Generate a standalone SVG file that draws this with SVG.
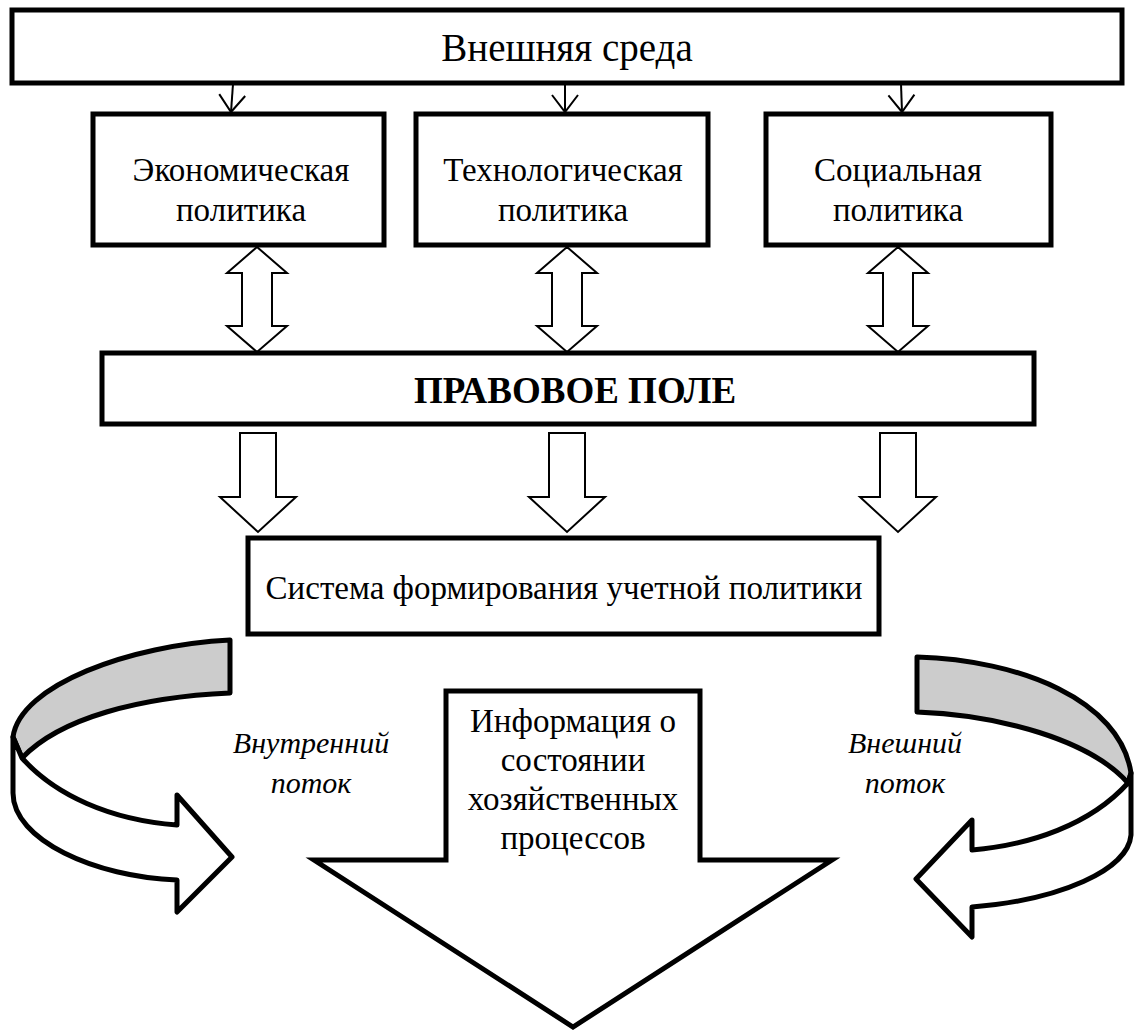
<svg xmlns="http://www.w3.org/2000/svg" width="1134" height="1030" viewBox="0 0 1134 1030">
<defs>
<style>
.box{fill:#fff;stroke:#000;stroke-width:5}
.t{font-family:"Liberation Serif","Times New Roman",serif;font-size:33px;fill:#000;text-anchor:middle}
.it{font-style:italic;font-size:30px}
.b{font-weight:bold;font-size:37px}
.blk{fill:#fff;stroke:#000;stroke-width:2;stroke-linejoin:miter}
.thin{fill:none;stroke:#000;stroke-width:2}
.curve{stroke:#000;stroke-width:5;stroke-linejoin:round}
</style>
<marker id="v" viewBox="0 0 20 30" refX="18" refY="15" markerWidth="20" markerHeight="30" markerUnits="userSpaceOnUse" orient="auto">
<path d="M1,2 L18,15 L1,28" fill="none" stroke="#000" stroke-width="2"/>
</marker>
</defs>

<g id="connectors">
<line class="thin" x1="233" y1="84" x2="231" y2="112" marker-end="url(#v)"/>
<line class="thin" x1="565" y1="84" x2="565" y2="112" marker-end="url(#v)"/>
<line class="thin" x1="901" y1="84" x2="902" y2="112" marker-end="url(#v)"/>
<path class="blk" d="M257,247 L287,273 L272,273 L272,326 L287,326 L257,352 L227,326 L242,326 L242,273 L227,273 Z"/>
<path class="blk" d="M567,247 L597,273 L582,273 L582,326 L597,326 L567,352 L537,326 L552,326 L552,273 L537,273 Z"/>
<path class="blk" d="M898,247 L928,273 L913,273 L913,326 L928,326 L898,352 L868,326 L883,326 L883,273 L868,273 Z"/>
<path class="blk" d="M240,433 L276,433 L276,497 L296,497 L258,532 L220,497 L240,497 Z"/>
<path class="blk" d="M549,433 L585,433 L585,497 L605,497 L567,532 L529,497 L549,497 Z"/>
<path class="blk" d="M880,433 L916,433 L916,497 L936,497 L898,532 L860,497 L880,497 Z"/>
</g>

<g id="n-env">
<rect class="box" x="12" y="10" width="1110" height="73"/>
<text class="t" x="567" y="61" style="font-size:39px">Внешняя среда</text>
</g>
<g id="n-econ">
<rect class="box" x="93" y="114" width="291" height="131"/>
<text class="t" x="241" y="181">Экономическая</text>
<text class="t" x="241" y="221">политика</text>
</g>
<g id="n-tech">
<rect class="box" x="416" y="114" width="292" height="131"/>
<text class="t" x="563" y="181">Технологическая</text>
<text class="t" x="563" y="221">политика</text>
</g>
<g id="n-soc">
<rect class="box" x="766" y="114" width="285" height="131"/>
<text class="t" x="898" y="181">Социальная</text>
<text class="t" x="898" y="221">политика</text>
</g>
<g id="n-law">
<rect class="box" x="102" y="353" width="932" height="71"/>
<text class="t b" x="575" y="403">ПРАВОВОЕ ПОЛЕ</text>
</g>
<g id="n-sys">
<rect class="box" x="248" y="538" width="631" height="96"/>
<text class="t" x="564" y="599">Система формирования учетной политики</text>
</g>

<g id="n-info">
<path class="box" d="M446,691 L700,691 L700,860 L832,860 L573,1027 L314,860 L446,860 Z"/>
<text class="t" x="573" y="732">Информация о</text>
<text class="t" x="573" y="771">состоянии</text>
<text class="t" x="573" y="810">хозяйственных</text>
<text class="t" x="573" y="849">процессов</text>
</g>

<g id="n-inner">
<path class="curve" fill="#cccccc" d="M230,640 C130,645 20,685 13,737 L22,758 C60,718 140,697 230,693 Z"/>
<path class="curve" fill="#fff" d="M22,758 C55,795 110,820 177,825 L177,795 L232,857 L177,912 L177,880 C95,877 13,840 13,793 L13,737 Z"/>
<text class="t it" x="311" y="753">Внутренний</text>
<text class="t it" x="311" y="793">поток</text>
</g>

<g id="n-outer">
<path class="curve" fill="#cccccc" d="M917,657 C1020,660 1120,700 1131,773 L1128,783 C1090,740 1000,715 917,712 Z"/>
<path class="curve" fill="#fff" d="M1128,783 C1090,825 1030,845 972,850 L972,820 L916,879 L972,937 L972,907 C1060,900 1128,870 1131,835 L1131,773 Z"/>
<text class="t it" x="905" y="753">Внешний</text>
<text class="t it" x="905" y="793">поток</text>
</g>
</svg>
